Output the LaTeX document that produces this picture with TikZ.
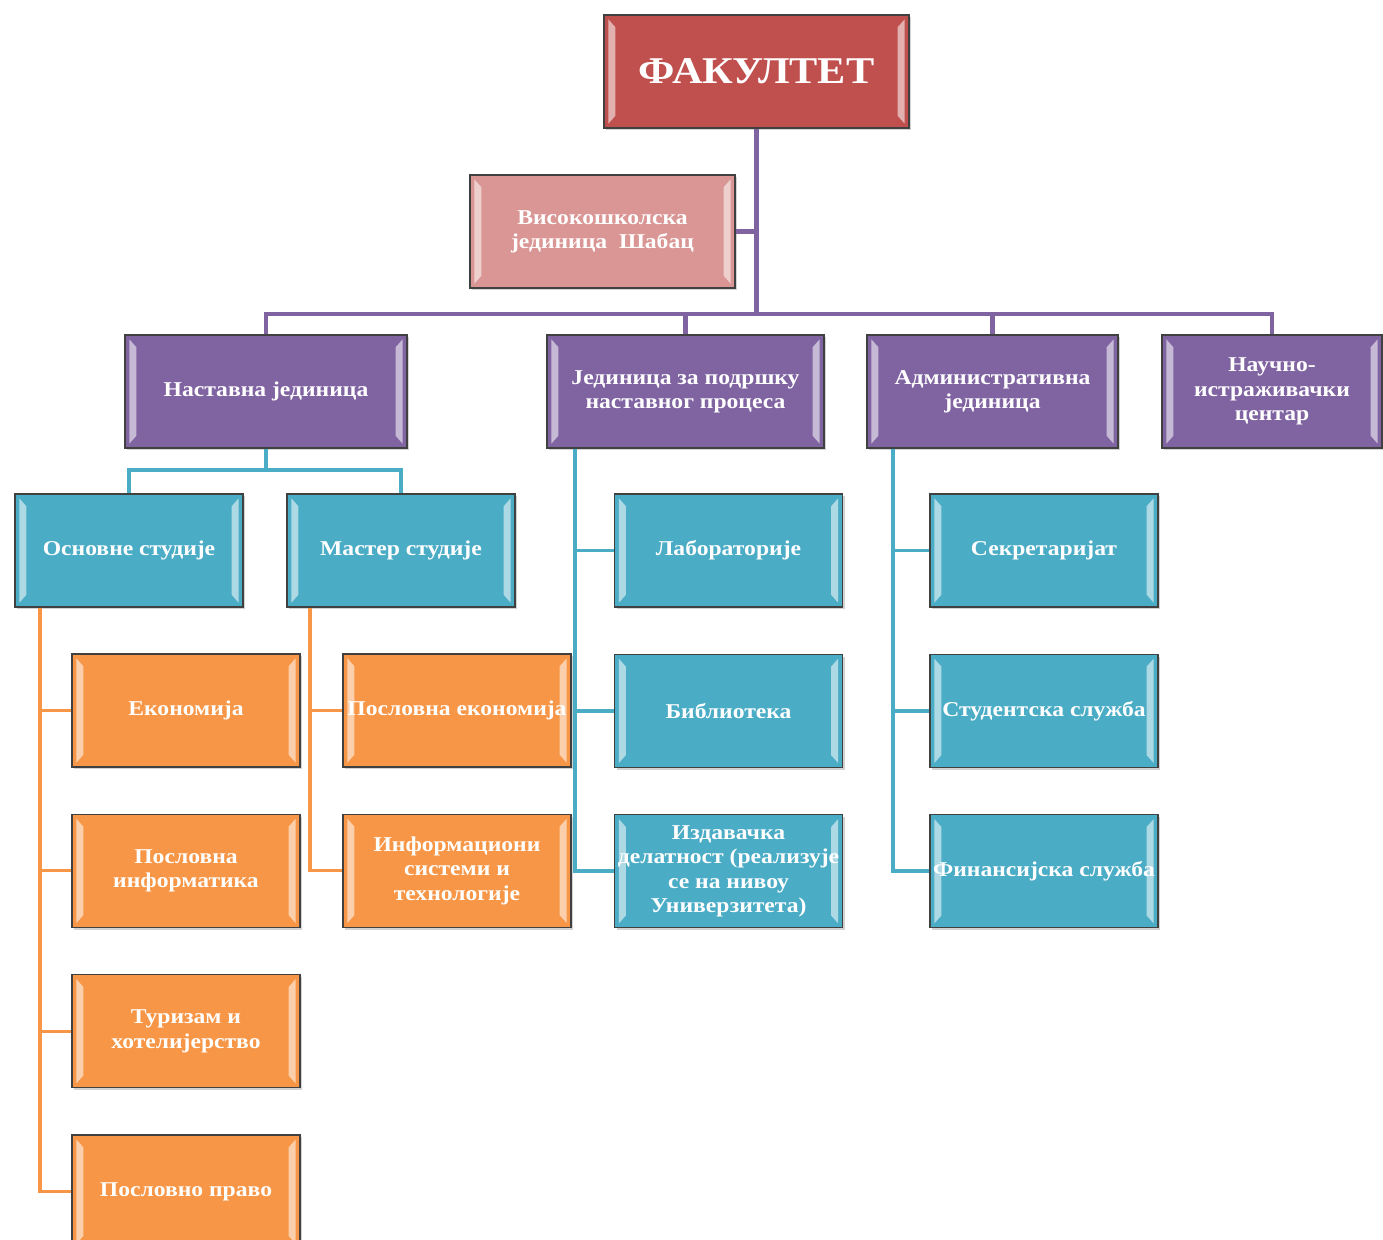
\documentclass[tikz,border=0pt]{standalone}
\usepackage{fontspec}
\setmainfont{Liberation Serif}[FakeStretch=1.12]
\usetikzlibrary{positioning, shadows}
\definecolor{fakred}{HTML}{C0504D}
\definecolor{fakpink}{HTML}{D99694}
\definecolor{fakpurple}{HTML}{8064A2}
\definecolor{fakcyan}{HTML}{4BACC6}
\definecolor{fakorange}{HTML}{F79646}
\tikzset{
	x=0.02cm, y=-0.02cm,
	node distance=0.92cm,
	unit/.style={draw=black!75, line width=0.8pt, fill=#1, text=white,
		font=\bfseries\fontsize{12}{13.8}\selectfont, align=center,
		minimum height=2.26cm, minimum width=4.56cm, inner xsep=0pt,
		drop shadow={shadow xshift=1.3pt, shadow yshift=-1.3pt, opacity=0.35},
		path picture={
			\fill[white, opacity=0.55]
				([shift={(2.5pt,-2.5pt)}]path picture bounding box.north west) --
				([shift={(2.5pt,2.5pt)}]path picture bounding box.south west) --
				([shift={(6.5pt,7pt)}]path picture bounding box.south west) --
				([shift={(6.5pt,-7pt)}]path picture bounding box.north west) -- cycle;
			\fill[white, opacity=0.55]
				([shift={(-2.5pt,-2.5pt)}]path picture bounding box.north east) --
				([shift={(-2.5pt,2.5pt)}]path picture bounding box.south east) --
				([shift={(-6.5pt,7pt)}]path picture bounding box.south east) --
				([shift={(-6.5pt,-7pt)}]path picture bounding box.north east) -- cycle;
		}},
	plink/.style={draw=fakpurple, line width=2.6pt},
	clink/.style={draw=fakcyan, line width=2.2pt},
	olink/.style={draw=fakorange, line width=1.8pt},
}

\begin{document}
\begin{tikzpicture}
	\useasboundingbox (0,0) rectangle (1383,1240);

	% top
	\node[unit=fakred, minimum width=6.1cm, font=\bfseries\fontsize{21.5}{24}\selectfont] (fak) at (756.5,71.5) {ФАКУЛТЕТ};
	\node[unit=fakpink, minimum width=5.3cm] (vis) at (602.5,231.5) {Високошколска\\јединица\ \ Шабац};

	% units
	\node[unit=fakpurple, minimum width=5.64cm] (nast) at (266,391.5) {Наставна јединица};
	\node[unit=fakpurple, minimum width=5.54cm] (jed) at (685.5,391.5) {Јединица за подршку\\наставног процеса};
	\node[unit=fakpurple, minimum width=5.02cm] (adm) at (992.5,391.5) {Административна\\јединица};
	\node[unit=fakpurple, minimum width=4.4cm] (nauc) at (1272,391.5) {Научно-\\истраживачки\\центар};

	% studies
	\node[unit=fakcyan] (osn) at (129,550.5) {Основне студије};
	\node[unit=fakcyan] (mas) at (401,550.5) {Мастер студије};

	\node[unit=fakorange] (eko) at (186,710.5) {Економија};
	\node[unit=fakorange, below=of eko] (pinf) {Пословна\\информатика};
	\node[unit=fakorange, below=of pinf] (tur) {Туризам и\\хотелијерство};
	\node[unit=fakorange, below=of tur] (ppr) {Пословно право};

	\node[unit=fakorange] (pek) at (457,710.5) {Пословна економија};
	\node[unit=fakorange, below=of pek] (inf) {Информациони\\системи и\\технологије};

	% support
	\node[unit=fakcyan] (lab) at (728.5,550.5) {Лабораторије};
	\node[unit=fakcyan, below=of lab] (bib) {Библиотека};
	\node[unit=fakcyan, below=of bib] (izd) {Издавачка\\делатност (реализује\\се на нивоу\\Универзитета)};

	% administration
	\node[unit=fakcyan] (sek) at (1044,550.5) {Секретаријат};
	\node[unit=fakcyan, below=of sek] (stu) {Студентска служба};
	\node[unit=fakcyan, below=of stu] (fin) {Финансијска служба};

	% links
	\coordinate (bus) at (0,314);
	\coordinate (sb) at (0,470);
	\coordinate (rj) at (575,0);
	\coordinate (ra) at (893,0);
	\coordinate (ro) at (40,0);
	\coordinate (rm) at (310,0);

	\draw[plink] (fak.south) -- (fak.south |- bus);
	\draw[plink] (vis.east) -- (vis.east -| fak.south);
	\draw[plink] (nast.north) -- (nast.north |- bus) -- (nauc.north |- bus) -- (nauc.north);
	\draw[plink] (jed.north) -- (jed.north |- bus);
	\draw[plink] (adm.north) -- (adm.north |- bus);

	\draw[clink] (nast.south) -- (nast.south |- sb);
	\draw[clink] (osn.north) -- (osn.north |- sb) -- (mas.north |- sb) -- (mas.north);
	\foreach \n in {lab,bib,izd}
		\draw[clink] (jed.south -| rj) |- (\n.west);
	\foreach \n in {sek,stu,fin}
		\draw[clink] (adm.south -| ra) |- (\n.west);

	\foreach \n in {eko,pinf,tur,ppr}
		\draw[olink] (osn.south -| ro) |- (\n.west);
	\foreach \n in {pek,inf}
		\draw[olink] (mas.south -| rm) |- (\n.west);
\end{tikzpicture}
\end{document}
